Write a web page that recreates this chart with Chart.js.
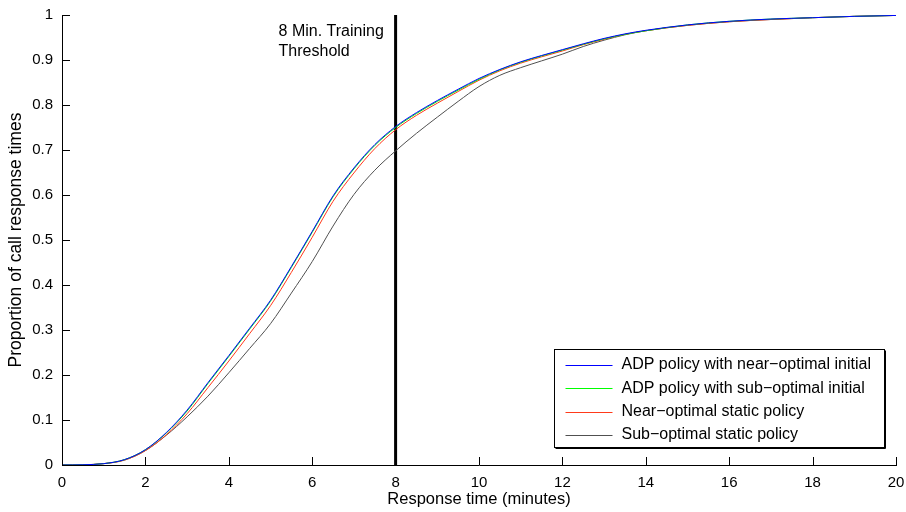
<!DOCTYPE html>
<html>
<head>
<meta charset="utf-8">
<script src="https://cdn.jsdelivr.net/npm/chart.js@4"></script>
<style>
  body { margin: 0; background: #fff; }
  #wrap { width: 906px; height: 512px; }
</style>
</head>
<body>
<div id="wrap"><canvas id="cdf"></canvas></div>
<script>
// response time grid (minutes)
const times = [0, 0.5, 1, 1.5, 2, 2.5, 3, 3.5, 4, 4.5, 5, 5.5, 6, 6.5, 7, 7.5, 8, 8.5, 9, 9.5,
  10, 10.5, 11, 11.5, 12, 12.5, 13, 13.5, 14, 15, 16, 17, 18, 19, 20];

const adpNear = [0, 0.0005, 0.003, 0.012, 0.034, 0.072, 0.122, 0.183, 0.243, 0.304, 0.366, 0.441, 0.519, 0.598, 0.66, 0.712, 0.752, 0.783, 0.81, 0.835,
  0.859, 0.879, 0.896, 0.91, 0.923, 0.936, 0.948, 0.958, 0.966, 0.978, 0.986, 0.991, 0.994, 0.997, 0.999];
const adpSub = [0, 0.0005, 0.003, 0.012, 0.034, 0.071, 0.12, 0.181, 0.241, 0.302, 0.364, 0.439, 0.517, 0.596, 0.658, 0.71, 0.75, 0.781, 0.808, 0.833,
  0.857, 0.878, 0.895, 0.909, 0.922, 0.935, 0.947, 0.957, 0.965, 0.978, 0.986, 0.991, 0.994, 0.997, 0.999];
const nearStatic = [0, 0.0005, 0.003, 0.011, 0.032, 0.067, 0.114, 0.172, 0.231, 0.292, 0.354, 0.428, 0.506, 0.586, 0.649, 0.703, 0.745, 0.777, 0.804, 0.83,
  0.855, 0.876, 0.893, 0.907, 0.92, 0.934, 0.946, 0.957, 0.965, 0.977, 0.985, 0.99, 0.994, 0.997, 0.999];
const subStatic = [0, 0.0005, 0.003, 0.011, 0.032, 0.066, 0.107, 0.153, 0.205, 0.259, 0.314, 0.382, 0.452, 0.531, 0.601, 0.655, 0.698, 0.737, 0.773, 0.808,
  0.841, 0.866, 0.883, 0.898, 0.913, 0.93, 0.944, 0.956, 0.965, 0.977, 0.985, 0.99, 0.994, 0.997, 0.999];

const seriesNames = ['ADP policy with near\u2212optimal initial', 'ADP policy with sub\u2212optimal initial',
  'Near\u2212optimal static policy', 'Sub\u2212optimal static policy'];
const threshold = 8;
const thresholdText = ['8 Min. Training', 'Threshold'];

const FONT = '"Liberation Sans", Arial, Helvetica, sans-serif';

function pts(ys) {
  return times.map((t, i) => ({x: t, y: ys[i]}));
}

function curve(label, ys, color) {
  return {
    label: label,
    data: pts(ys),
    borderColor: color,
    borderWidth: 1,
    pointRadius: 0,
    cubicInterpolationMode: 'monotone',
    fill: false
  };
}

// inward ticks, threshold label and boxed legend inside the axes
const extras = {
  id: 'extras',
  afterDraw(chart) {
    const ctx = chart.ctx;
    const xs = chart.scales.x, ys = chart.scales.y;
    const area = chart.chartArea;
    ctx.save();
    ctx.strokeStyle = '#000';
    ctx.lineWidth = 1;
    ctx.beginPath();
    xs.ticks.forEach(t => {
      const px = Math.round(xs.getPixelForValue(t.value)) + 0.5;
      ctx.moveTo(px, area.bottom);
      ctx.lineTo(px, area.bottom - 8);
    });
    ys.ticks.forEach(t => {
      const py = Math.round(ys.getPixelForValue(t.value)) + 0.5;
      ctx.moveTo(area.left, py);
      ctx.lineTo(area.left + 8, py);
    });
    ctx.stroke();

    // threshold text
    ctx.fillStyle = '#000';
    ctx.font = '16px ' + FONT;
    ctx.textBaseline = 'middle';
    ctx.textAlign = 'left';
    const tx = xs.getPixelForValue(threshold) - 117;
    ctx.fillText(thresholdText[0], tx, area.top + 17);
    ctx.fillText(thresholdText[1], tx, area.top + 37);

    // legend box
    const items = chart.data.datasets.filter(d => d.label);
    const bw = 330, bh = 98;
    const bx = area.right - 341.5, by = area.bottom - 115.5;
    ctx.fillStyle = '#fff';
    ctx.fillRect(bx, by, bw, bh);
    ctx.strokeStyle = '#000';
    ctx.lineWidth = 1;
    ctx.strokeRect(bx, by, bw, bh);
    ctx.beginPath();
    ctx.moveTo(bx + 1, by + bh + 1);
    ctx.lineTo(bx + bw + 1, by + bh + 1);
    ctx.lineTo(bx + bw + 1, by + 1);
    ctx.stroke();
    ctx.font = '16px ' + FONT;
    items.forEach((d, i) => {
      const ly = by + 15.5 + i * 23.3;
      ctx.strokeStyle = d.borderColor;
      ctx.beginPath();
      ctx.moveTo(bx + 11, Math.round(ly) + 0.5);
      ctx.lineTo(bx + 58, Math.round(ly) + 0.5);
      ctx.stroke();
      ctx.fillStyle = '#000';
      ctx.fillText(d.label, bx + 67, ly);
    });
    ctx.restore();
  }
};

new Chart(document.getElementById('cdf'), {
  type: 'line',
  data: {
    datasets: [
      curve(seriesNames[0], adpNear, '#0000ff'),
      curve(seriesNames[1], adpSub, '#00ff00'),
      curve(seriesNames[2], nearStatic, '#ff3a1a'),
      curve(seriesNames[3], subStatic, '#505050'),
      {
        label: '',
        data: [{x: threshold, y: 0}, {x: threshold, y: 1}],
        borderColor: '#000',
        borderWidth: 3,
        pointRadius: 0
      }
    ]
  },
  options: {
    responsive: true,
    maintainAspectRatio: false,
    animation: false,
    layout: {padding: {top: 15, right: 10, left: 0, bottom: 1}},
    plugins: {legend: {display: false}, tooltip: {enabled: false}},
    scales: {
      x: {
        type: 'linear',
        min: 0,
        max: 20,
        afterFit: s => { s.height = 46; s.paddingLeft = 0; s.paddingRight = 0; },
        grid: {drawOnChartArea: false, drawTicks: false},
        border: {display: true, color: '#000', width: 1},
        ticks: {stepSize: 2, padding: 9, color: '#000', font: {family: FONT, size: 15}, maxRotation: 0},
        title: {display: true, text: 'Response time (minutes)', color: '#000',
          font: {family: FONT, size: 16.5}, padding: {top: 0, bottom: 2}}
      },
      y: {
        min: 0,
        max: 1,
        afterFit: s => { s.width = 62; s.paddingTop = 0; s.paddingBottom = 0; },
        grid: {drawOnChartArea: false, drawTicks: false},
        border: {display: true, color: '#000', width: 1},
        ticks: {stepSize: 0.1, padding: 9, color: '#000', font: {family: FONT, size: 15},
          callback: v => String(Number(v.toFixed(1)))},
        title: {display: true, text: 'Proportion of call response times', color: '#000',
          font: {family: FONT, size: 17.5}, padding: {top: 6, bottom: 6}}
      }
    }
  },
  plugins: [extras]
});
</script>
</body>
</html>
